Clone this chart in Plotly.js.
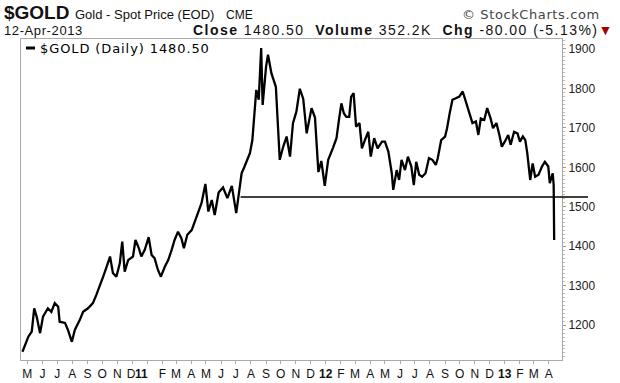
<!DOCTYPE html>
<html><head><meta charset="utf-8">
<script src="https://cdn.plot.ly/plotly-3.0.1.min.js"></script>
<style>html,body{margin:0;padding:0;background:#fff;}#chart{width:620px;height:383px;}</style>
</head><body><div id="chart"></div>
<script>
const dates = ['2010-04-21','2010-05-03','2010-05-10','2010-05-15','2010-05-20','2010-05-27','2010-06-02','2010-06-12','2010-06-19','2010-06-26',
'2010-07-03','2010-07-06','2010-07-17','2010-07-23','2010-07-31','2010-08-06','2010-08-16','2010-08-23','2010-09-02','2010-09-12',
'2010-09-19','2010-09-26','2010-10-03','2010-10-10','2010-10-17','2010-10-23','2010-10-30','2010-11-06','2010-11-11','2010-11-16',
'2010-11-23','2010-12-03','2010-12-08','2010-12-15','2010-12-20','2010-12-27','2011-01-04','2011-01-10','2011-01-16','2011-01-23',
'2011-01-29','2011-02-06','2011-02-13','2011-02-20','2011-02-26','2011-03-05','2011-03-12','2011-03-17','2011-03-24','2011-04-02',
'2011-04-08','2011-04-15','2011-04-22','2011-04-30','2011-05-06','2011-05-13','2011-05-19','2011-05-27','2011-06-05','2011-06-14',
'2011-06-23','2011-07-02','2011-07-07','2011-07-13','2011-07-19','2011-07-30','2011-08-04','2011-08-09','2011-08-12','2011-08-17',
'2011-08-22','2011-08-25','2011-09-01','2011-09-05','2011-09-12','2011-09-21','2011-09-26','2011-09-29','2011-10-06','2011-10-13',
'2011-10-20','2011-10-26','2011-11-02','2011-11-09','2011-11-16','2011-11-23','2011-12-03','2011-12-10','2011-12-17','2011-12-23',
'2011-12-30','2012-01-06','2012-01-16','2012-01-23','2012-01-28','2012-02-02','2012-02-07','2012-02-12','2012-02-18','2012-02-22',
'2012-02-27','2012-03-03','2012-03-10','2012-03-15','2012-03-21','2012-03-28','2012-04-02','2012-04-09','2012-04-16','2012-04-25',
'2012-05-01','2012-05-08','2012-05-15','2012-05-18','2012-05-25','2012-05-30','2012-06-04','2012-06-11','2012-06-17','2012-06-24',
'2012-06-29','2012-07-04','2012-07-10','2012-07-16','2012-07-23','2012-07-30','2012-08-06','2012-08-13','2012-08-17','2012-08-24',
'2012-09-01','2012-09-05','2012-09-11','2012-09-16','2012-09-23','2012-09-30','2012-10-07','2012-10-12','2012-10-16','2012-10-22',
'2012-10-27','2012-11-03','2012-11-08','2012-11-13','2012-11-20','2012-11-26','2012-12-03','2012-12-08','2012-12-15','2012-12-21',
'2012-12-26','2013-01-01','2013-01-08','2013-01-13','2013-01-20','2013-01-27','2013-02-01','2013-02-07','2013-02-12','2013-02-16',
'2013-02-22','2013-02-27','2013-03-04','2013-03-11','2013-03-18','2013-03-24','2013-03-31','2013-04-03','2013-04-09','2013-04-11',
'2013-04-12'];
const prices = [1133,1171,1184,1243,1222,1180,1222,1243,1234,1256,
1247,1209,1206,1188,1158,1188,1213,1234,1243,1256,
1277,1298,1323,1348,1374,1332,1323,1357,1412,1336,
1365,1374,1416,1395,1374,1391,1423,1378,1370,1340,
1323,1348,1365,1391,1416,1437,1420,1395,1429,1441,
1462,1484,1509,1558,1488,1517,1479,1536,1549,1522,
1553,1484,1526,1585,1602,1636,1669,1754,1796,1771,
1902,1758,1855,1885,1838,1804,1686,1619,1652,1678,
1627,1712,1741,1799,1773,1686,1750,1726,1588,1616,
1553,1619,1650,1674,1720,1762,1737,1728,1728,1779,
1788,1703,1712,1648,1669,1690,1627,1674,1648,1665,
1665,1640,1585,1543,1593,1568,1619,1593,1627,1602,
1555,1614,1581,1576,1585,1623,1619,1606,1623,1669,
1678,1699,1741,1771,1775,1779,1792,1771,1754,1733,
1712,1716,1682,1724,1720,1750,1724,1699,1712,1682,
1652,1665,1682,1657,1690,1686,1665,1678,1669,1636,
1568,1610,1576,1581,1602,1614,1602,1560,1585,1555,
1416];

const tickDates = ['2010-05-01','2010-06-01','2010-07-01','2010-08-01','2010-09-01','2010-10-01','2010-11-01','2010-11-29',
'2010-12-20','2011-02-01','2011-03-01','2011-04-01','2011-05-01','2011-06-01','2011-07-01','2011-08-01','2011-09-01','2011-10-01','2011-11-01','2011-12-01',
'2012-01-01','2012-02-01','2012-03-01','2012-04-01','2012-05-01','2012-06-01','2012-07-01','2012-08-01','2012-09-01','2012-10-01','2012-11-01','2012-12-01',
'2013-01-01','2013-02-01','2013-03-01','2013-04-01'];
const tickLabels = ['M','J','J','A','S','O','N','D',
'<b>11</b>','F','M','A','M','J','J','A','S','O','N','D',
'<b>12</b>','F','M','A','M','J','J','A','S','O','N','D',
'<b>13</b>','F','M','A'];

const supportLevel = 1525;
const supportStart = '2011-07-11';
const xRange = ['2010-04-18','2013-04-28'];
const yRange = [1112,1925];

const L=21,R=562,T=39,B=360;
function ax(px){return (px-L)/(R-L);}
function ay(py){return (B-py)/(B-T);}
function dateFrac(d){const a=Date.parse(xRange[0]),b=Date.parse(xRange[1]);return (Date.parse(d)-a)/(b-a);}
function sp(t,ls){return '<span style="letter-spacing:'+ls+'px">'+t+'</span>';}

const arial='Liberation Sans, Arial, sans-serif';
const verd='DejaVu Sans, Verdana, sans-serif';

const trace = {x:dates, y:prices, type:'scatter', mode:'lines', line:{color:'#000', width:2.3}, hoverinfo:'skip', showlegend:false};

const layout = {
  width:620, height:383,
  margin:{l:L, r:620-R, t:T, b:383-B, pad:0},
  paper_bgcolor:'#fff', plot_bgcolor:'#fff',
  showlegend:false,
  xaxis:{type:'date', range:xRange, tickvals:tickDates, ticktext:tickLabels, tickangle:0,
    ticks:'', showline:true, mirror:true, linecolor:'#aaa', linewidth:1,
    showgrid:false, zeroline:false, automargin:false, ticklabelstandoff:3,
    minor:{dtick:'M1', tick0:'2010-05-01', ticks:'outside', ticklen:3, tickcolor:'#aaa', showgrid:false},
    tickfont:{family:arial, size:12, color:'#111'}},
  yaxis:{side:'right', range:yRange, tick0:1200, dtick:100, ticks:'outside', ticklen:3, tickcolor:'#999',
    showline:true, mirror:true, linecolor:'#aaa', linewidth:1, showgrid:false, zeroline:false, automargin:false,
    tickfont:{family:arial, size:12, color:'#222'},
    minor:{dtick:10, ticks:'outside', ticklen:2, tickcolor:'#bbb', showgrid:false}},
  shapes:[
    {type:'line', xref:'paper', yref:'y', x0:dateFrac(supportStart), x1:ax(588), y0:supportLevel, y1:supportLevel, line:{color:'#000', width:1.5}},
    {type:'line', xref:'paper', yref:'paper', x0:ax(26), x1:ax(35), y0:ay(48), y1:ay(48), line:{color:'#000', width:3}}
  ],
  annotations:[
    {text:'<b>$GOLD</b>', x:ax(2), y:ay(13), xanchor:'left', yanchor:'middle', font:{family:arial, size:19, color:'#111'}},
    {text:'Gold - Spot Price (EOD)', x:ax(73), y:ay(15), xanchor:'left', yanchor:'middle', font:{family:arial, size:13, color:'#111'}},
    {text:'CME', x:ax(224), y:ay(15), xanchor:'left', yanchor:'middle', font:{family:arial, size:12, color:'#111'}},
    {text:sp('© StockCharts.com',0.6), x:ax(460), y:ay(14), xanchor:'left', yanchor:'middle', font:{family:verd, size:13, color:'#444'}},
    {text:sp('12-Apr-2013',0.6), x:ax(2), y:ay(30), xanchor:'left', yanchor:'middle', font:{family:arial, size:13, color:'#111'}},
    {text:sp('<b>Close</b> 1480.50  <b>Volume</b> 352.2K  <b>Chg</b> -80.00 (-5.13%)',1.45) + '<span style="color:#a00000">▼</span>', x:ax(191), y:ay(30), xanchor:'left', yanchor:'middle', font:{family:arial, size:14, color:'#111'}},
    {text:sp('$GOLD (Daily) 1480.50',0.9), x:ax(38), y:ay(48), xanchor:'left', yanchor:'middle', font:{family:verd, size:13, color:'#000'}}
  ].map(a=>Object.assign({xref:'paper', yref:'paper', showarrow:false}, a))
};

Plotly.newPlot('chart', [trace], layout, {staticPlot:true, displayModeBar:false});
</script>
</body></html>
